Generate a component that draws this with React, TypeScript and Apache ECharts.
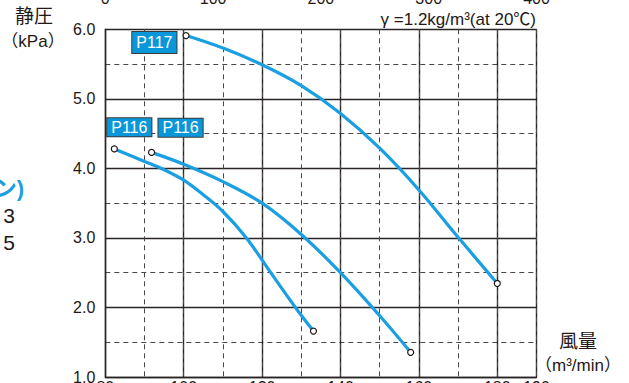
import { useEffect, useRef } from "react";
import * as echarts from "echarts";

// Airflow (m³/min) and static pressure (kPa)
const p117X = [100.6, 110, 120, 130, 140, 150, 160, 170, 180];
const p117Y = [5.91, 5.73, 5.49, 5.19, 4.79, 4.29, 3.69, 3.01, 2.345];

const p116aX = [82.3, 90, 95, 100, 105, 110, 116, 122.2, 128.5, 133.1];
const p116aY = [4.28, 4.1, 3.98, 3.83, 3.62, 3.38, 3.0, 2.5, 2.0, 1.66];

const p116bX = [91.8, 100, 110, 120, 130, 140, 150, 157.9];
const p116bY = [4.23, 4.06, 3.81, 3.5, 3.05, 2.5, 1.88, 1.355];

// axes
const xMin = 80;
const xMax = 190;
const yMin = 1;
const yMax = 6;
const topAxisMin = 0;
const topAxisMax = 400;

const curveColor = "#1a9fe2";
const tagColor = "#0a97d9";
const ink = "#231815";
const font = "'Liberation Sans', 'Noto Sans CJK JP', sans-serif";

function makeSeries(name: string, xs: number[], ys: number[], label: any) {
  const last = xs.length - 1;
  return {
    type: "line",
    name,
    xAxisIndex: 0,
    yAxisIndex: 0,
    smooth: 0.35,
    showAllSymbol: true,
    symbol: (_v: any, p: any) =>
      p.dataIndex === 0 || p.dataIndex === last ? "circle" : "none",
    symbolSize: 6,
    itemStyle: { color: "#fff", borderColor: ink, borderWidth: 1.2 },
    lineStyle: { color: curveColor, width: 3.2 },
    z: 5,
    data: xs.map((x, i) =>
      i === 0
        ? {
            value: [x, ys[i]],
            label: {
              show: true,
              formatter: name,
              color: "#fff",
              backgroundColor: tagColor,
              borderColor: "#3a3a3a",
              borderWidth: 1,
              fontSize: 16,
              fontFamily: font,
              ...label,
            },
          }
        : [x, ys[i]]
    ),
  };
}

export default function App() {
  const ref = useRef<HTMLDivElement>(null);
  useEffect(() => {
    if (!ref.current) return;
    const chart = echarts.init(ref.current, null, { renderer: "svg" });
    const solid = { color: "#2a2424", width: 1.4, type: "solid" as const };
    const dashed = { color: "#4a4646", width: 1, type: [5, 4] as any };
    chart.setOption({
      animation: false,
      backgroundColor: "#fff",
      grid: {
        left: 105.3,
        top: 29.3,
        right: 92.5,
        bottom: 6,
        containLabel: false,
        outerBoundsMode: "none",
      },
      xAxis: [
        {
          type: "value",
          position: "bottom",
          min: xMin,
          max: xMax,
          interval: 20,
          axisLine: { show: true, lineStyle: solid },
          axisTick: { show: false },
          axisLabel: {
            color: ink,
            fontSize: 16,
            fontFamily: font,
            margin: 2,
            showMaxLabel: true,
            formatter: (v: number) => String(v),
          },
          splitLine: { show: true, lineStyle: solid },
        },
        {
          type: "value",
          position: "bottom",
          min: xMin,
          max: xMax,
          interval: 10,
          axisLine: { show: false },
          axisTick: { show: false },
          axisLabel: { show: false },
          splitLine: { show: true, lineStyle: dashed },
          z: 0,
        },
        {
          type: "value",
          position: "top",
          min: topAxisMin,
          max: topAxisMax,
          interval: 100,
          axisLine: { show: false },
          axisTick: { show: false },
          splitLine: { show: false },
          axisLabel: {
            color: ink,
            fontSize: 16,
            fontFamily: font,
            margin: 23,
          },
        },
      ],
      yAxis: {
        type: "value",
        min: yMin,
        max: yMax,
        interval: 1,
        axisLine: { show: true, lineStyle: solid },
        axisTick: { show: false },
        axisLabel: {
          color: ink,
          fontSize: 16,
          fontFamily: font,
          margin: 10,
          formatter: (v: number) => v.toFixed(1),
        },
        splitLine: { show: true, lineStyle: solid },
        minorTick: { show: false, splitNumber: 2 },
        minorSplitLine: { show: true, lineStyle: dashed },
      },
      series: [
        makeSeries("P117", p117X, p117Y, {
          position: "left",
          distance: 6,
          offset: [0, 7],
          padding: [3, 4, 2, 4],
        }),
        makeSeries("P116", p116aX, p116aY, {
          position: "top",
          distance: 9,
          offset: [15, 0],
          padding: [1, 4, 1, 4],
        }),
        makeSeries("P116", p116bX, p116bY, {
          position: "top",
          distance: 12,
          offset: [29, 0],
          padding: [1, 4, 1, 4],
        }),
      ],
      graphic: [
        {
          type: "text",
          x: 34,
          y: 16.5,
          style: { text: "静圧", font: `19px ${font}`, fill: ink, align: "center", verticalAlign: "middle" },
        },
        {
          type: "text",
          x: 33,
          y: 41,
          style: { text: "（kPa）", font: `17px ${font}`, fill: ink, align: "center", verticalAlign: "middle" },
        },
        {
          type: "text",
          x: 536,
          y: 19,
          style: { text: "γ =1.2kg/m³(at 20℃)", font: `17px ${font}`, fill: ink, align: "right", verticalAlign: "middle" },
        },
        {
          type: "text",
          x: 578,
          y: 341,
          style: { text: "風量", font: `19px ${font}`, fill: ink, align: "center", verticalAlign: "middle" },
        },
        {
          type: "text",
          x: 578,
          y: 365,
          style: { text: "（m³/min）", font: `17px ${font}`, fill: ink, align: "center", verticalAlign: "middle" },
        },
        {
          type: "text",
          x: 24,
          y: 188,
          style: { text: "ン)", font: `bold 22px ${font}`, fill: curveColor, align: "right", verticalAlign: "middle" },
        },
        {
          type: "text",
          x: 15,
          y: 215,
          style: { text: "3", font: `21px ${font}`, fill: ink, align: "right", verticalAlign: "middle" },
        },
        {
          type: "text",
          x: 15,
          y: 242,
          style: { text: "5", font: `21px ${font}`, fill: ink, align: "right", verticalAlign: "middle" },
        },
      ],
    });
    return () => chart.dispose();
  }, []);
  return (
    <div
      ref={ref}
      style={{ position: "fixed", left: 0, top: 0, width: 629, height: 383, background: "#fff" }}
    />
  );
}
